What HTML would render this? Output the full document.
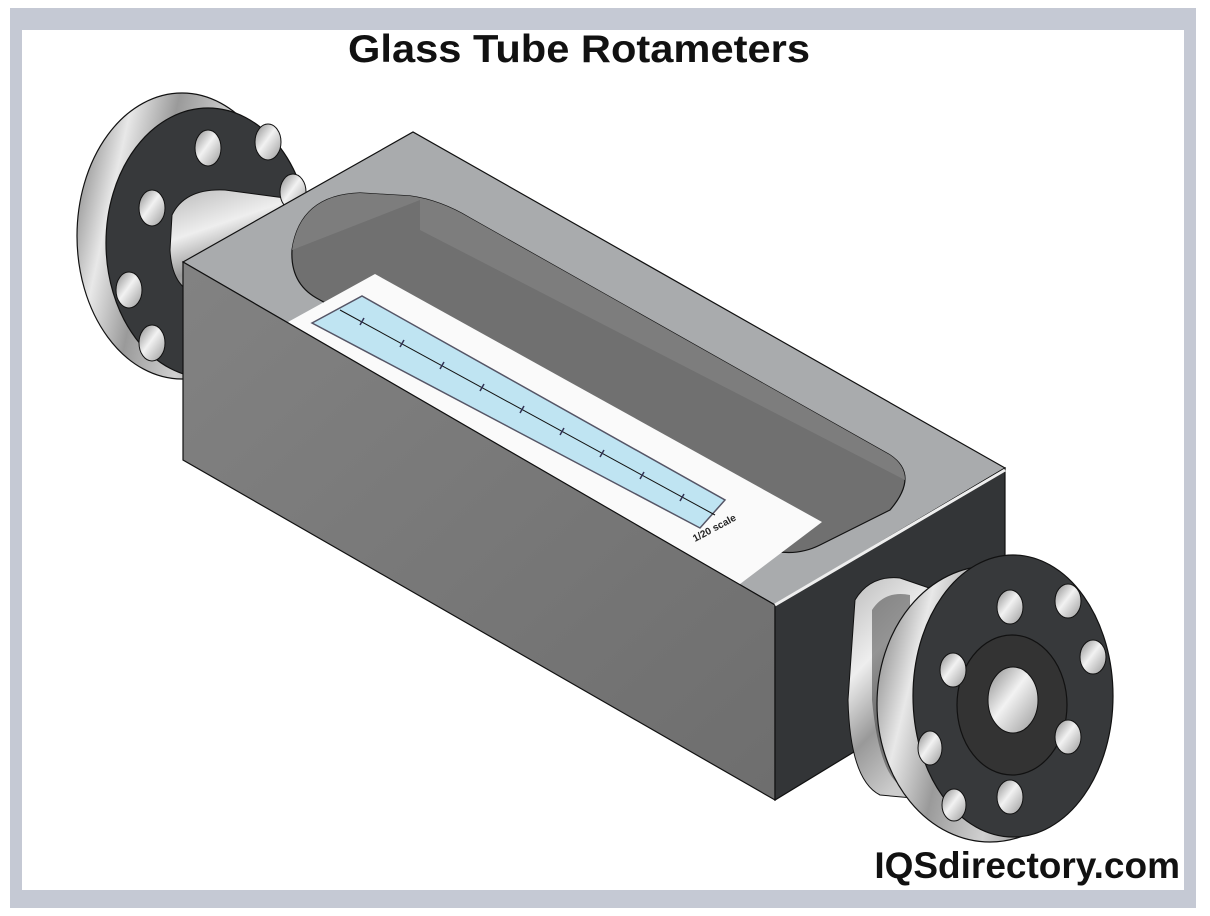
<!DOCTYPE html>
<html><head><meta charset="utf-8"><style>
html,body{margin:0;padding:0;background:#fff;}
svg{display:block;}
</style></head><body>
<svg width="1210" height="916" viewBox="0 0 1210 916" xmlns="http://www.w3.org/2000/svg">
<defs>
<linearGradient id="rim" x1="0" y1="0" x2="1" y2="0.3">
<stop offset="0" stop-color="#6a6a6a"/><stop offset="0.25" stop-color="#e8e8e8"/><stop offset="0.45" stop-color="#9a9a9a"/><stop offset="0.7" stop-color="#d0d0d0"/><stop offset="1" stop-color="#777"/>
</linearGradient>
<linearGradient id="hole" x1="0" y1="0" x2="1" y2="1">
<stop offset="0" stop-color="#888"/><stop offset="0.45" stop-color="#f2f2f2"/><stop offset="1" stop-color="#999"/>
</linearGradient>
<linearGradient id="neck" x1="0" y1="0" x2="0.4" y2="1">
<stop offset="0" stop-color="#bbb"/><stop offset="0.4" stop-color="#eee"/><stop offset="0.7" stop-color="#999"/><stop offset="1" stop-color="#ccc"/>
</linearGradient>
<linearGradient id="front" x1="0" y1="0" x2="1" y2="1">
<stop offset="0" stop-color="#828282"/><stop offset="1" stop-color="#6e6e6e"/>
</linearGradient>
</defs>
<rect x="0" y="0" width="1210" height="916" fill="#fff"/>
<rect x="10" y="8" width="1186" height="900" fill="#c5c9d4"/>
<rect x="22" y="30" width="1162" height="860" fill="#fff"/>

<text x="348" y="62" textLength="462" lengthAdjust="spacingAndGlyphs" font-family="Liberation Sans, Arial, sans-serif" font-weight="bold" font-size="39" fill="#111">Glass Tube Rotameters</text>

<!-- left flange -->
<ellipse cx="182" cy="236" rx="105" ry="143" fill="url(#rim)" stroke="#111" stroke-width="1.2"/>
<ellipse cx="208" cy="243" rx="102" ry="135" fill="#37393b" stroke="#111" stroke-width="1.2"/>
<path d="M172,215 Q185,188 225,190 L300,200 L300,300 L200,295 Q172,290 170,250 Z" fill="url(#neck)" stroke="#111"/>
<g fill="url(#hole)" stroke="#111" stroke-width="1">
<ellipse cx="208" cy="148" rx="13" ry="18"/>
<ellipse cx="268" cy="142" rx="13" ry="18"/>
<ellipse cx="293" cy="192" rx="13" ry="18"/>
<ellipse cx="152" cy="208" rx="13" ry="18"/>
<ellipse cx="129" cy="290" rx="13" ry="18"/>
<ellipse cx="152" cy="343" rx="13" ry="18"/>
</g>

<!-- box -->
<polygon points="183,262 413,132 1005,468 775,605" fill="#a9abad" stroke="#111" stroke-width="1.2"/>
<polygon points="183,262 775,605 775,800 183,460" fill="url(#front)" stroke="#111" stroke-width="1.2"/>
<polygon points="775,605 1005,468 1005,660 775,800" fill="#333537" stroke="#111" stroke-width="1.2"/>
<polyline points="775,605 1005,470" fill="none" stroke="#eee" stroke-width="3"/>
<!-- window -->
<path d="M292,250 Q300,195 360,193 L410,196 Q440,200 470,218 L890,455 Q920,475 890,510 L820,545 Q790,560 755,545 L320,300 Q290,285 292,250 Z" fill="#707070" stroke="#111" stroke-width="1.2"/>
<path d="M292,250 Q300,195 360,193 L410,196 Q440,200 470,218 L890,455 Q905,465 905,480 L420,230 L420,200 Z" fill="#7d7d7d"/>
<!-- scale strip -->
<polygon points="288,322 375,274 822,522 740,584" fill="#fafafa"/>
<polygon points="312,323 362,296 725,500 700,528" fill="#bfe4f2" stroke="#556" stroke-width="1.5"/>
<line x1="340" y1="310" x2="715" y2="515" stroke="#111" stroke-width="1"/>
<g stroke="#335" stroke-width="1.5">
<line x1="360" y1="325" x2="364" y2="318"/><line x1="400" y1="347" x2="404" y2="340"/><line x1="440" y1="369" x2="444" y2="362"/>
<line x1="480" y1="391" x2="484" y2="384"/><line x1="520" y1="413" x2="524" y2="406"/><line x1="560" y1="435" x2="564" y2="428"/>
<line x1="600" y1="457" x2="604" y2="450"/><line x1="640" y1="479" x2="644" y2="472"/><line x1="680" y1="501" x2="684" y2="494"/>
</g>
<text x="0" y="0" transform="translate(695,542) rotate(-28)" font-family="Liberation Sans, sans-serif" font-weight="bold" font-size="10" fill="#222">1/20 scale</text>

<!-- right neck -->
<path d="M855,600 Q870,575 900,578 L935,590 L935,800 L880,795 Q850,780 848,700 Z" fill="url(#neck)" stroke="#111"/>
<path d="M872,610 Q885,590 910,595 L910,790 Q880,785 872,700 Z" fill="#3a3a3a" opacity="0.5"/>
<!-- right flange -->
<ellipse cx="990" cy="704" rx="113" ry="138" fill="url(#rim)" stroke="#111" stroke-width="1.2"/>
<ellipse cx="1013" cy="696" rx="100" ry="141" fill="#37393b" stroke="#111" stroke-width="1.2"/>
<ellipse cx="1012" cy="705" rx="55" ry="70" fill="#333" stroke="#111" stroke-width="1.2"/>
<ellipse cx="1013" cy="700" rx="25" ry="33" fill="url(#hole)" stroke="#111"/>
<g fill="url(#hole)" stroke="#111" stroke-width="1">
<ellipse cx="1010" cy="607" rx="13" ry="17"/>
<ellipse cx="1068" cy="601" rx="13" ry="17"/>
<ellipse cx="1093" cy="657" rx="13" ry="17"/>
<ellipse cx="953" cy="670" rx="13" ry="17"/>
<ellipse cx="1068" cy="737" rx="13" ry="17"/>
<ellipse cx="930" cy="748" rx="12" ry="17"/>
<ellipse cx="1010" cy="797" rx="13" ry="17"/>
<ellipse cx="954" cy="805" rx="12" ry="16"/>
</g>

<text x="1180" y="878" text-anchor="end" font-family="Liberation Sans, Arial, sans-serif" font-weight="bold" font-size="37" fill="#111">IQSdirectory.com</text>
</svg>
</body></html>
